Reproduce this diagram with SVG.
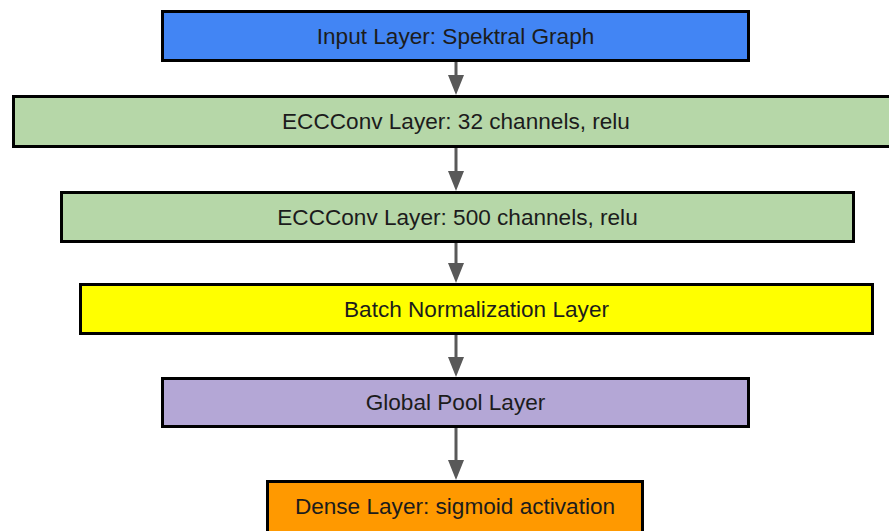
<svg xmlns="http://www.w3.org/2000/svg" width="889" height="531" viewBox="0 0 889 531">
  <style>
    .box { stroke: #000000; stroke-width: 3; }
    .lbl { font-family: "Liberation Sans", Arial, sans-serif; font-size: 22.6px; fill: #1c1c1c; text-anchor: middle; }
    .edge { stroke: #595959; stroke-width: 3; fill: none; }
  </style>
  <defs>
    <marker id="arrow" markerUnits="userSpaceOnUse" markerWidth="20" markerHeight="16" refX="0" refY="8" orient="auto" viewBox="0 0 20 16">
      <path d="M0,0 L20,8 L0,16 z" fill="#595959"/>
    </marker>
  </defs>
  <rect width="889" height="531" fill="#ffffff"/>
  <g id="connectors">
    <line class="edge" x1="456" y1="62" x2="456" y2="75" marker-end="url(#arrow)"/>
    <line class="edge" x1="456" y1="148" x2="456" y2="171" marker-end="url(#arrow)"/>
    <line class="edge" x1="456" y1="243" x2="456" y2="263" marker-end="url(#arrow)"/>
    <line class="edge" x1="456" y1="335" x2="456" y2="357" marker-end="url(#arrow)"/>
    <line class="edge" x1="456" y1="428" x2="456" y2="460" marker-end="url(#arrow)"/>
  </g>
  <g id="input">
    <rect class="box" x="162.5" y="11.5" width="586" height="49" fill="#4285f4"/>
    <text class="lbl" x="455.5" y="43.5">Input Layer: Spektral Graph</text>
  </g>
  <g id="ecc32">
    <rect class="box" x="13.5" y="96.5" width="880" height="50" fill="#b6d7a8"/>
    <text class="lbl" x="456" y="129">ECCConv Layer: 32 channels, relu</text>
  </g>
  <g id="ecc500">
    <rect class="box" x="61.5" y="192.5" width="792" height="49" fill="#b6d7a8"/>
    <text class="lbl" x="457.5" y="224.5">ECCConv Layer: 500 channels, relu</text>
  </g>
  <g id="batchnorm">
    <rect class="box" x="80.5" y="284.5" width="792" height="49" fill="#ffff00"/>
    <text class="lbl" x="476.5" y="316.5">Batch Normalization Layer</text>
  </g>
  <g id="globalpool">
    <rect class="box" x="162.5" y="378.5" width="586" height="48" fill="#b4a7d6"/>
    <text class="lbl" x="455.5" y="410">Global Pool Layer</text>
  </g>
  <g id="dense">
    <rect class="box" x="267.5" y="481.5" width="375" height="52" fill="#ff9900"/>
    <text class="lbl" x="455" y="513.5">Dense Layer: sigmoid activation</text>
  </g>
</svg>
